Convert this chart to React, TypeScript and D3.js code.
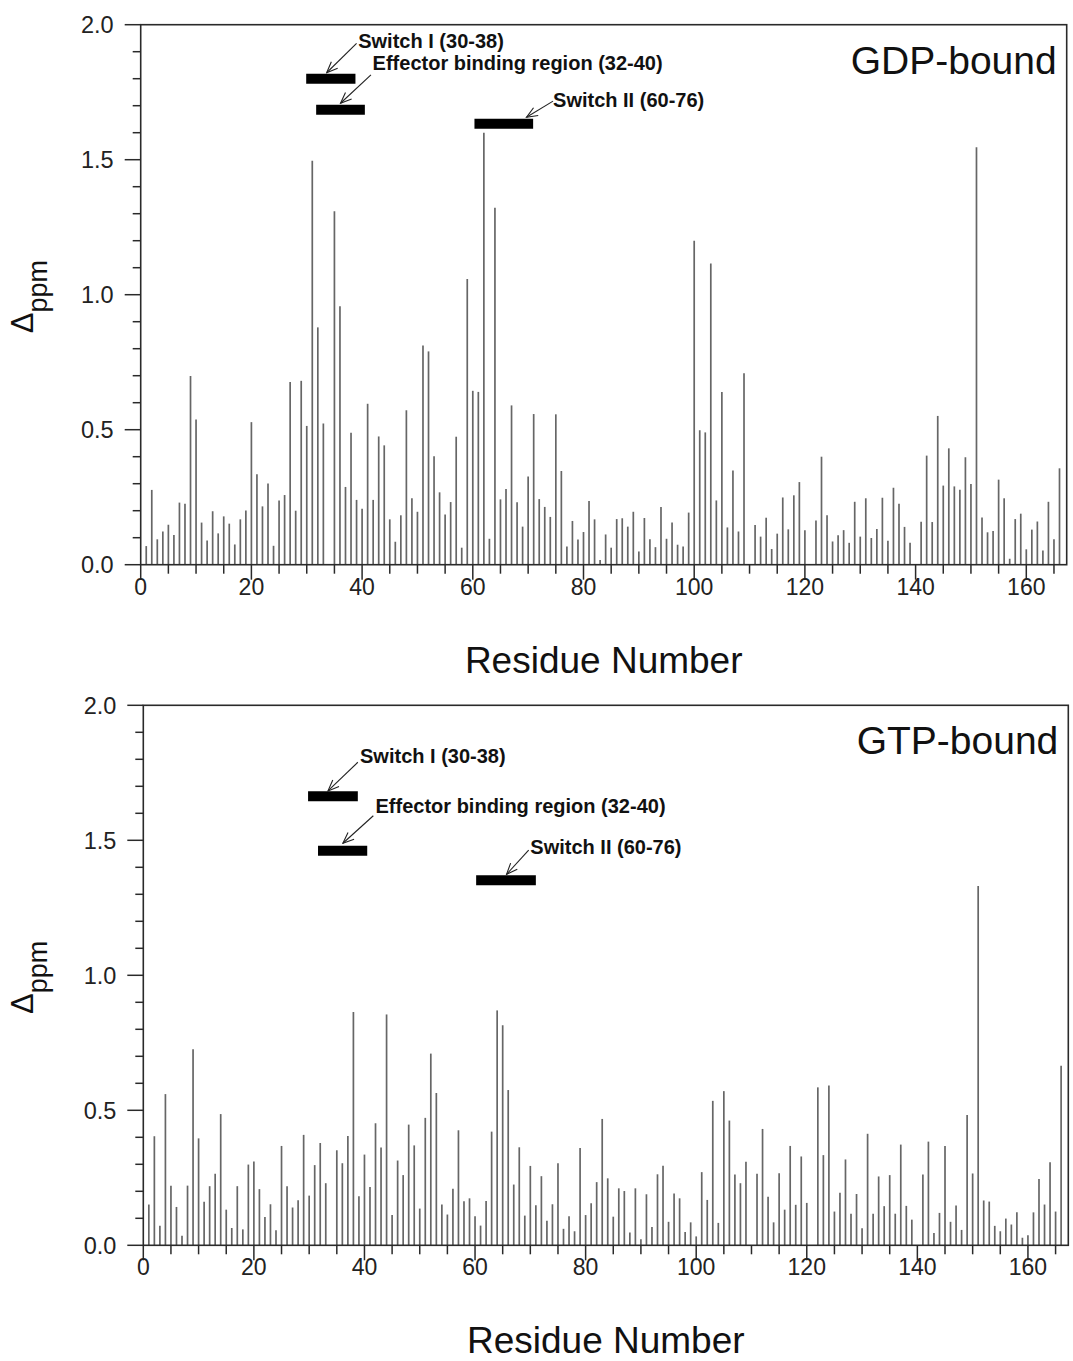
import React from "react";
import * as d3 from "d3";

// Chemical shift perturbation (Δppm) per residue, residues 1..166; null = no data
const gdpValues: (number | null)[] = [
  0.069, 0.277, 0.094, 0.123, 0.148, 0.11, 0.23, 0.226, 0.699, 0.538,
  0.156, 0.09, 0.198, 0.116, 0.179, 0.152, 0.075, 0.168, 0.201, 0.528,
  0.335, 0.216, 0.301, 0.07, 0.238, 0.258, 0.677, 0.2, 0.681, 0.514,
  1.496, 0.879, 0.523, null, 1.309, 0.957, 0.288, 0.489, 0.24, 0.207,
  0.596, 0.24, 0.475, 0.442, 0.168, 0.085, 0.183, 0.572, 0.246, 0.196,
  0.812, 0.79, 0.402, 0.268, 0.186, 0.232, 0.474, 0.063, 1.058, 0.644,
  0.64, 1.6, 0.096, 1.322, 0.242, 0.28, 0.59, 0.231, 0.141, 0.327,
  0.558, 0.243, 0.214, 0.177, 0.557, 0.347, 0.067, 0.162, 0.093, 0.121,
  0.236, 0.168, 0.017, 0.112, 0.063, 0.169, 0.172, 0.141, 0.196, 0.049,
  0.173, 0.094, 0.065, 0.214, 0.096, 0.156, 0.074, 0.067, 0.193, 1.2,
  0.498, 0.49, 1.116, 0.238, 0.64, 0.138, 0.349, 0.123, 0.709, null,
  0.147, 0.104, 0.174, 0.058, 0.115, 0.249, 0.131, 0.257, 0.306, 0.128,
  null, 0.164, 0.4, 0.183, 0.086, 0.109, 0.128, 0.081, 0.233, 0.104,
  0.246, 0.099, 0.132, 0.248, 0.089, 0.285, 0.226, 0.14, 0.081, null,
  0.159, 0.404, 0.158, 0.551, 0.293, 0.431, 0.29, 0.278, 0.398, 0.299,
  1.546, 0.175, 0.12, 0.125, 0.315, 0.246, 0.022, 0.169, 0.189, 0.057,
  0.13, 0.16, 0.053, 0.233, 0.094, 0.357,
];

const gtpValues: (number | null)[] = [
  0.151, 0.404, 0.072, 0.56, 0.221, 0.142, 0.035, 0.221, 0.726, 0.396,
  0.161, 0.219, 0.265, 0.486, 0.132, 0.064, 0.219, 0.059, 0.299, 0.31,
  0.208, 0.105, 0.152, 0.056, 0.368, 0.219, 0.14, 0.167, 0.409, 0.184,
  0.297, 0.379, 0.23, null, 0.352, 0.304, 0.405, 0.864, 0.182, 0.336,
  0.216, 0.452, 0.362, 0.855, 0.112, 0.314, 0.26, 0.447, 0.37, 0.136,
  0.472, 0.71, 0.564, 0.151, 0.114, 0.209, 0.426, 0.163, 0.174, 0.108,
  0.073, 0.164, 0.421, 0.87, 0.815, 0.575, 0.225, 0.363, 0.11, 0.294,
  0.148, 0.256, 0.091, 0.152, 0.304, 0.061, 0.108, 0.052, 0.36, 0.112,
  0.156, 0.234, 0.468, 0.248, 0.106, 0.211, 0.201, 0.047, 0.211, 0.022,
  0.189, 0.068, 0.263, 0.295, 0.087, 0.192, 0.174, 0.049, 0.085, 0.033,
  0.271, 0.168, 0.535, 0.083, 0.571, 0.462, 0.262, 0.23, 0.309, null,
  0.265, 0.431, 0.18, 0.085, 0.267, 0.132, 0.368, 0.15, 0.329, 0.157,
  null, 0.585, 0.334, 0.592, 0.125, 0.195, 0.318, 0.117, 0.19, 0.063,
  0.413, 0.117, 0.255, 0.145, 0.26, 0.117, 0.373, 0.146, 0.095, null,
  0.262, 0.384, 0.046, 0.12, 0.368, 0.087, 0.147, 0.057, 0.483, 0.266,
  1.331, 0.166, 0.162, 0.072, 0.052, 0.099, 0.077, 0.122, 0.028, 0.037,
  0.122, 0.246, 0.151, 0.308, 0.125, 0.665,
];

const xTickMajor = [0, 20, 40, 60, 80, 100, 120, 140, 160];
const xTickMinor = [5, 10, 15, 25, 30, 35, 45, 50, 55, 65, 70, 75, 85, 90, 95, 105, 110, 115, 125, 130, 135, 145, 150, 155, 165];
const yTickMajor = [0, 0.5, 1.0, 1.5, 2.0];
const yTickMinor = [0.1, 0.2, 0.3, 0.4, 0.6, 0.7, 0.8, 0.9, 1.1, 1.2, 1.3, 1.4, 1.6, 1.7, 1.8, 1.9];

// Region annotations (data coordinates): bar [x0,x1] at y, label anchor and arrow
type Annot = { label: string; x0: number; x1: number; y: number; tx: number; ty: number; ax0: number; ay0: number; ax1: number; ay1: number };

const gdpAnnots: Annot[] = [
  { label: "Switch I (30-38)", x0: 29.9, x1: 38.8, y: 1.8, tx: 39.3, ty: 1.913, ax0: 39.0, ay0: 1.931, ax1: 33.6, ay1: 1.822 },
  { label: "Effector binding region (32-40)", x0: 31.7, x1: 40.5, y: 1.685, tx: 41.9, ty: 1.832, ax0: 41.6, ay0: 1.814, ax1: 36.1, ay1: 1.709 },
  { label: "Switch II (60-76)", x0: 60.3, x1: 70.9, y: 1.633, tx: 74.5, ty: 1.694, ax0: 74.5, ay0: 1.717, ax1: 69.7, ay1: 1.657 },
];

const gtpAnnots: Annot[] = [
  { label: "Switch I (30-38)", x0: 29.8, x1: 38.8, y: 1.663, tx: 39.2, ty: 1.785, ax0: 38.8, ay0: 1.789, ax1: 33.4, ay1: 1.683 },
  { label: "Effector binding region (32-40)", x0: 31.6, x1: 40.5, y: 1.461, tx: 42.0, ty: 1.6, ax0: 41.6, ay0: 1.591, ax1: 36.1, ay1: 1.489 },
  { label: "Switch II (60-76)", x0: 60.2, x1: 71.0, y: 1.352, tx: 70.0, ty: 1.448, ax0: 69.7, ay0: 1.464, ax1: 65.7, ay1: 1.374 },
];

const FONT = "'Liberation Sans', Arial, Helvetica, sans-serif";
const AXIS = "#2a2a2a";

function Panel({ values, title, annots, left, right, top, bottom, id }: {
  values: (number | null)[]; title: string; annots: Annot[];
  left: number; right: number; top: number; bottom: number; id: string;
}) {
  const x = d3.scaleLinear().domain([0, 167.3]).range([left, right]);
  const y = d3.scaleLinear().domain([0, 2]).range([bottom, top]);
  const bars = values.map((v, i) => ({ r: i + 1, v })).filter((d) => d.v !== null) as { r: number; v: number }[];
  const midY = (top + bottom) / 2;
  return (
    <g>
      <defs>
        <marker id={"arr" + id} viewBox="0 0 13 11" refX="12" refY="5.5" markerWidth="13" markerHeight="11" markerUnits="userSpaceOnUse" orient="auto">
          <path d="M1,1 L12,5.5 L1,10" fill="none" stroke="#222" strokeWidth="1.1" />
        </marker>
      </defs>
      {bars.map((d) => (
        <line key={d.r} x1={x(d.r)} x2={x(d.r)} y1={y(0)} y2={y(d.v)} stroke="#666" strokeWidth={1.7} />
      ))}
      <rect x={left} y={top} width={right - left} height={bottom - top} fill="none" stroke={AXIS} strokeWidth={1.6} />
      {xTickMajor.map((t) => (
        <g key={"xM" + t}>
          <line x1={x(t)} x2={x(t)} y1={bottom} y2={bottom + 15} stroke={AXIS} strokeWidth={1.5} />
          <text x={x(t)} y={bottom + 30} textAnchor="middle" fontFamily={FONT} fontSize={23} fill="#222">{t}</text>
        </g>
      ))}
      {xTickMinor.map((t) => (
        <line key={"xm" + t} x1={x(t)} x2={x(t)} y1={bottom} y2={bottom + 9} stroke={AXIS} strokeWidth={1.5} />
      ))}
      {yTickMajor.map((t) => (
        <g key={"yM" + t}>
          <line x1={left - 16} x2={left} y1={y(t)} y2={y(t)} stroke={AXIS} strokeWidth={1.5} />
          <text x={left - 27} y={y(t)} dy="0.36em" textAnchor="end" fontFamily={FONT} fontSize={23.5} fill="#222">{t.toFixed(1)}</text>
        </g>
      ))}
      {yTickMinor.map((t) => (
        <line key={"ym" + t} x1={left - 8} x2={left} y1={y(t)} y2={y(t)} stroke={AXIS} strokeWidth={1.5} />
      ))}
      <text x={(left + right) / 2} y={bottom + 108} textAnchor="middle" fontFamily={FONT} fontSize={37} fill="#111">Residue Number</text>
      <g transform={`translate(33, ${midY + 2}) rotate(-90)`}>
        <text textAnchor="middle" fontFamily={FONT} fill="#111">
          <tspan fontSize={31}>Δ</tspan>
          <tspan fontSize={27} dy={14}>ppm</tspan>
        </text>
      </g>
      <text x={right - 10} y={top + 49} textAnchor="end" fontFamily={FONT} fontSize={39} fill="#111">{title}</text>
      {annots.map((a) => (
        <g key={a.label}>
          <line x1={x(a.x0)} x2={x(a.x1)} y1={y(a.y)} y2={y(a.y)} stroke="#000" strokeWidth={10} />
          <line x1={x(a.ax0)} y1={y(a.ay0)} x2={x(a.ax1)} y2={y(a.ay1)} stroke="#222" strokeWidth={1.1} markerEnd={`url(#arr${id})`} />
          <text x={x(a.tx)} y={y(a.ty)} fontFamily={FONT} fontWeight="bold" fontSize={20} fill="#111">{a.label}</text>
        </g>
      ))}
    </g>
  );
}

export default function App() {
  return (
    <svg width={1073} height={1361} style={{ position: "absolute", left: 0, top: 0, background: "#fff" }}>
      <rect x={0} y={0} width={1073} height={1361} fill="#fff" />
      <Panel id="gdp" values={gdpValues} title="GDP-bound" annots={gdpAnnots} left={140.7} right={1066.7} top={24.7} bottom={564.7} />
      <Panel id="gtp" values={gtpValues} title="GTP-bound" annots={gtpAnnots} left={143.3} right={1068.3} top={705.3} bottom={1245.3} />
    </svg>
  );
}
